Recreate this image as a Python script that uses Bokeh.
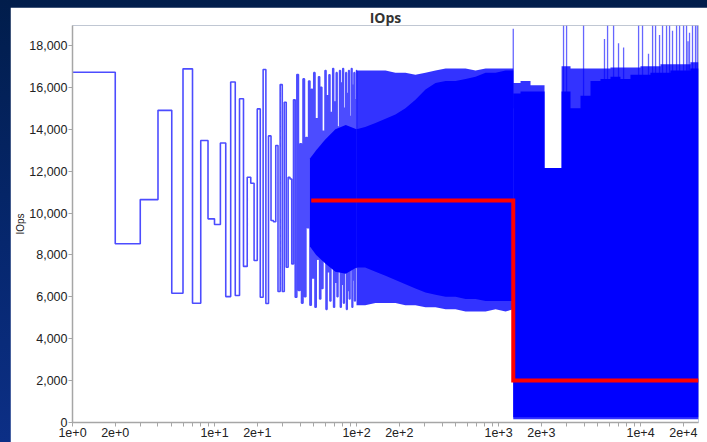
from bokeh.plotting import figure
from bokeh.models import Range1d, FixedTicker, NumeralTickFormatter
from bokeh.layouts import column
from bokeh.embed import file_html
from bokeh.resources import INLINE

# --- first samples: IOps per sample index, each value held for one step ---
early_x = list(range(1, 102))
early_iops = [16720, 8530, 10640, 14900, 6170, 16880, 5690, 13460, 9720, 9450,
              13340, 6010, 16250, 6060, 15450, 7450, 11710, 11420, 7730, 14970,
              5980, 16850, 5680, 13680, 9640, 9580, 13220, 6250, 16130, 6250,
              15290, 7410, 11710, 11620, 7570, 15400, 5980, 16610, 6300, 13300,
              5700, 16400, 6000, 13600, 9300, 16300, 5600, 15900, 6900, 16700,
              5500, 14500, 7800, 16500, 5900, 16000, 6400, 13900, 8600, 16800,
              5400, 15600, 7200, 16600, 5800, 14800, 8200, 16900, 5500, 15300,
              6700, 16700, 6000, 14100, 8900, 16800, 5500, 16200, 6600, 16900,
              5700, 15000, 7600, 16700, 5400, 15700, 6300, 16800, 5900, 14600,
              8300, 16900, 5500, 16100, 6800, 16700, 5800, 15400, 7400, 16800]

# --- range covered solidly where the early oscillation packs together ---
core_x = [47, 52, 60, 71, 84, 100]
core_lo = [8400, 8000, 7600, 7200, 7100, 7400]
core_hi = [12600, 13000, 13500, 14000, 14200, 14000]

# --- dense warm-up phase: outer reach of the oscillation and its solid core ---
mid_x = [100, 115, 136, 160, 188, 221, 260, 306, 360, 424, 498, 586, 689, 811, 954, 1121, 1270]
mid_lo_outer = [5600, 5600, 5700, 5700, 5700, 5600, 5600, 5500, 5500, 5400, 5400,
                5300, 5300, 5300, 5400, 5300, 5400]
mid_lo_inner = [7400, 7400, 7200, 7000, 6800, 6600, 6400, 6200, 6100, 6000, 6000,
                5900, 5900, 5800, 5800, 5800, 5800]
mid_hi_inner = [14000, 14100, 14300, 14500, 14700, 15000, 15400, 15900, 16200, 16300, 16300,
                16400, 16500, 16700, 16700, 16800, 16800]
mid_hi_outer = [16800, 16800, 16800, 16800, 16700, 16700, 16600, 16700, 16800, 16900, 16900,
                16900, 16800, 16900, 16900, 16900, 16900]

# --- steady phase, per bin of sample indices ---
late_edges = [1270, 1429, 1680, 2109, 2780, 3214, 3778, 4443, 5224, 6143, 7224, 8494,
              9988, 11745, 13811, 16240, 19096, 22455, 25600]
late_lo_outer = [150, 150, 150, 150, 150, 150, 150, 150, 150, 150, 150,
                 150, 150, 150, 150, 150, 150, 150]
late_lo_inner = [250, 250, 250, 250, 250, 250, 250, 250, 250, 250, 250,
                 250, 250, 250, 250, 250, 250, 250]
late_hi_inner = [15700, 15800, 15800, 12150, 15800, 15000, 15600, 16300, 16400, 16500, 16400,
                 16600, 16600, 16700, 16700, 16800, 16800, 16900]
late_hi_outer = [16200, 16300, 16100, 12150, 17000, 16900, 16900, 16900, 16900, 16950, 16950,
                 16950, 17000, 17000, 17100, 17100, 17100, 17200]

# --- isolated bursts reaching above the dense band ---
spike_x = [1270, 2870, 3015, 3970, 5575, 5860, 6460, 7000, 7600, 9690, 10330, 11380,
           12160, 12760, 13610, 14290, 15250, 16010, 16800, 17940, 18830, 20100, 21090,
           21600, 22130, 23230, 24390, 25100]
spike_top = [18800, 18950, 18950, 18950, 18300, 18950, 18950, 18100, 17900, 18950, 18950, 17600,
             18950, 18950, 18500, 18950, 18950, 18950, 18700, 18950, 18950, 18950, 18950,
             18200, 18600, 18950, 18950, 18950]
spike_base = 15000

# --- average level per phase ---
avg_x = [48, 1270, 25600]
avg_iops = [10600, 2000, 2000]

# --- axis ticks ---
x_major = [1, 2, 10, 20, 100, 200, 1000, 2000, 10000, 20000]
x_labels = ["1e+0", "2e+0", "1e+1", "2e+1", "1e+2", "2e+2", "1e+3", "2e+3", "1e+4", "2e+4"]
x_minor = [3, 4, 5, 6, 7, 8, 9, 30, 40, 50, 60, 70, 80, 90,
           300, 400, 500, 600, 700, 800, 900, 3000, 4000, 5000, 6000, 7000, 8000, 9000]
y_ticks = [0, 2000, 4000, 6000, 8000, 10000, 12000, 14000, 16000, 18000]

BLUE = "#0000ff"
AXIS_GREY = "#a6a6a6"
TEXT = "#222222"
FONT = "Liberation Sans"

p = figure(width=697, height=435, x_axis_type="log",
           x_range=Range1d(1, 25600), y_range=Range1d(0, 18950),
           output_backend="svg", toolbar_location=None,
           min_border_left=62, min_border_right=9, min_border_top=18, min_border_bottom=20,
           background_fill_color="white", border_fill_color="white", outline_line_color=None)

p.title.text = "IOps"
p.title.align = "center"
p.title.text_font = "Open Sans"
p.title.text_font_size = "14px"
p.title.text_font_style = "bold"
p.title.text_color = "#333333"
p.title.standoff = -3

p.xgrid.visible = False
p.ygrid.visible = False


def closed(values):
    # repeat the last bin value so the final step reaches the right edge
    return values + [values[-1]]


# warm-up band: striped outer reach, solid inner core
p.varea(x=mid_x, y1=mid_lo_outer, y2=mid_hi_outer, fill_color=BLUE, fill_alpha=0.8)
p.varea(x=mid_x, y1=mid_lo_inner, y2=mid_hi_inner, fill_color=BLUE, fill_alpha=1.0)
p.varea(x=core_x, y1=core_lo, y2=core_hi, fill_color=BLUE, fill_alpha=1.0)

# steady band
p.varea_step(x=late_edges, y1=closed(late_lo_outer), y2=closed(late_hi_outer),
             step_mode="after", fill_color=BLUE, fill_alpha=0.8)
p.varea_step(x=late_edges, y1=closed(late_lo_inner), y2=closed(late_hi_inner),
             step_mode="after", fill_color=BLUE, fill_alpha=1.0)
p.segment(x0=spike_x, x1=spike_x, y0=[spike_base] * len(spike_x), y1=spike_top,
          line_color=BLUE, line_alpha=0.6, line_width=1.3)

p.step(early_x, early_iops + [early_iops[-1]], mode="after",
       line_color=BLUE, line_alpha=0.7, line_width=1.6)

p.step(avg_x, avg_iops, mode="after", line_color="#ff0000", line_width=4,
       line_join="miter")

# axes
xa = p.xaxis[0]
xa.ticker = FixedTicker(ticks=x_major, minor_ticks=x_minor)
xa.major_label_overrides = {float(t): lab for t, lab in zip(x_major, x_labels)}
ya = p.yaxis[0]
ya.ticker = FixedTicker(ticks=y_ticks, minor_ticks=[])
ya.formatter = NumeralTickFormatter(format="0,0")
ya.axis_label = "IOps"
ya.axis_label_text_font = FONT
ya.axis_label_text_font_size = "10px"
ya.axis_label_text_font_style = "normal"
ya.axis_label_text_color = TEXT
ya.axis_label_standoff = 0

for ax in (xa, ya):
    ax.axis_line_color = AXIS_GREY
    ax.axis_line_width = 1.5
    ax.major_tick_line_color = AXIS_GREY
    ax.minor_tick_line_color = AXIS_GREY
    ax.major_tick_in = 0
    ax.major_tick_out = 4
    ax.minor_tick_in = 0
    ax.minor_tick_out = 4
    ax.major_label_text_font = FONT
    ax.major_label_text_font_size = "12.5px"
    ax.major_label_text_color = TEXT
    ax.major_label_standoff = 1

page = column(p, styles={
    "background": "linear-gradient(180deg, #011d4b 0%, #06276e 55%, #0c2f86 100%)",
    "padding": "7px 0px 0px 10px",
})

open("out.html", "w").write(file_html(page, INLINE))
